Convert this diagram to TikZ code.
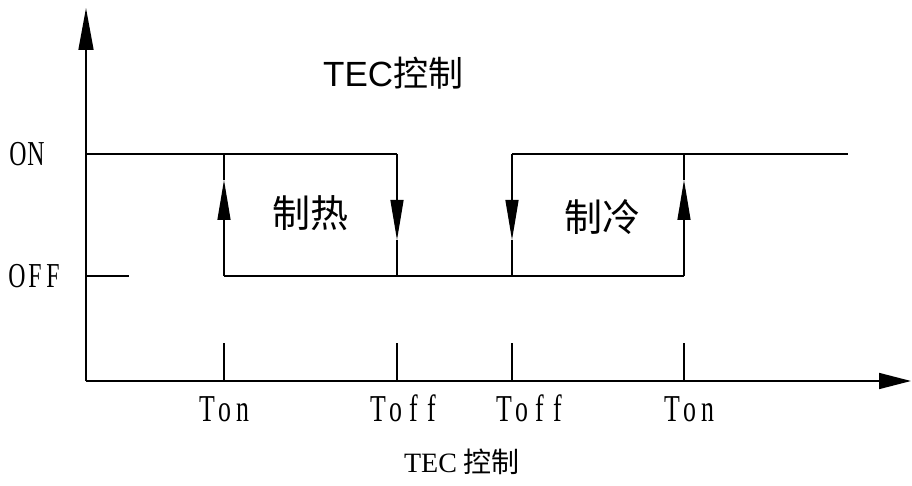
\documentclass[tikz,border=0pt]{standalone}
\usepackage{fontspec}
\usepackage{graphicx}
\setmainfont{Liberation Serif}
\newfontfamily\cjk{Noto Sans CJK SC}
\newfontfamily\arialf{Liberation Sans}
\usetikzlibrary{arrows.meta}
\newcommand\mb[1]{\makebox[18pt]{\scalebox{0.68}[1]{#1}}}
\begin{document}
\begin{tikzpicture}[x=1pt,y=-1pt,
  axis/.style={line width=1.6pt},
  sig/.style={line width=1.3pt},
  bigtip/.style={-{Triangle[length=42pt,width=15pt]}},
  midtip/.style={-{Triangle[length=40pt,width=13pt]}},
  lvl/.style={font=\fontsize{35}{35}\selectfont, inner sep=0pt},
  tlab/.style={font=\fontsize{38}{38}\selectfont, inner sep=0pt, anchor=base},
  boxlab/.style={font=\fontsize{38}{38}\selectfont\cjk, inner sep=0pt}]
\useasboundingbox (0,0) rectangle (912,486);
% axes
\coordinate (O) at (86,381);
\coordinate (Ytop) at (86,8);
\coordinate (Xend) at (911,381);
\draw[axis,bigtip] (O) -- (Ytop);
\draw[axis,-{Triangle[length=32pt,width=16pt]}] (O) -- (Xend);
% levels
\coordinate (on0) at (86,154);
\coordinate (off0) at (86,276);
\coordinate (offt) at (129,276);
\draw[sig] (off0) -- (offt);
% waveform corners
\coordinate (a1) at (224,276); \coordinate (a2) at (224,154); \coordinate (at) at (224,180);
\coordinate (b1) at (397,154); \coordinate (b2) at (397,276); \coordinate (bt) at (397,240);
\coordinate (c1) at (512,154); \coordinate (c2) at (512,276); \coordinate (ct) at (512,240);
\coordinate (d1) at (684,276); \coordinate (d2) at (684,154); \coordinate (dt) at (684,180);
\coordinate (e) at (848,154);
\draw[sig] (on0) -- (b1);
\draw[sig] (a1) -- (d1);
\draw[sig] (c1) -- (e);
\draw[sig,midtip] (a1) -- (at); \draw[sig] (at) -- (a2);
\draw[sig,midtip] (b1) -- (bt); \draw[sig] (bt) -- (b2);
\draw[sig,midtip] (c1) -- (ct); \draw[sig] (ct) -- (c2);
\draw[sig,midtip] (d1) -- (dt); \draw[sig] (dt) -- (d2);
% ticks
\foreach \x/\n in {224/t1,397/t2,512/t3,684/t4}{
  \coordinate (\n a) at (\x,343); \coordinate (\n b) at (\x,381);
  \draw[sig] (\n a) -- (\n b);
}
% labels
\node[lvl] (lon) at (27,154) {\mb{O}\mb{N}};
\node[lvl] (loff) at (35,276) {\mb{O}\mb{F}\mb{F}};
\node[tlab] (ton1) at (225,421) {\mb{T}\mb{o}\mb{n}};
\node[tlab] (toff1) at (405,421) {\mb{T}\mb{o}\mb{f}\mb{f}};
\node[tlab] (toff2) at (531,421) {\mb{T}\mb{o}\mb{f}\mb{f}};
\node[tlab] (ton2) at (690,421) {\mb{T}\mb{o}\mb{n}};
\node[boxlab] (heat) at (310,213) {制热};
\node[boxlab] (cool) at (602,217) {制冷};
\node[inner sep=0pt, anchor=base west, font=\fontsize{35}{35}\selectfont] (title) at (323,87) {\arialf TEC\cjk 控制};
\node[inner sep=0pt, anchor=base, font=\fontsize{28}{28}\selectfont] (cap) at (462,472) {TEC {\cjk 控制}};
\end{tikzpicture}
\end{document}
